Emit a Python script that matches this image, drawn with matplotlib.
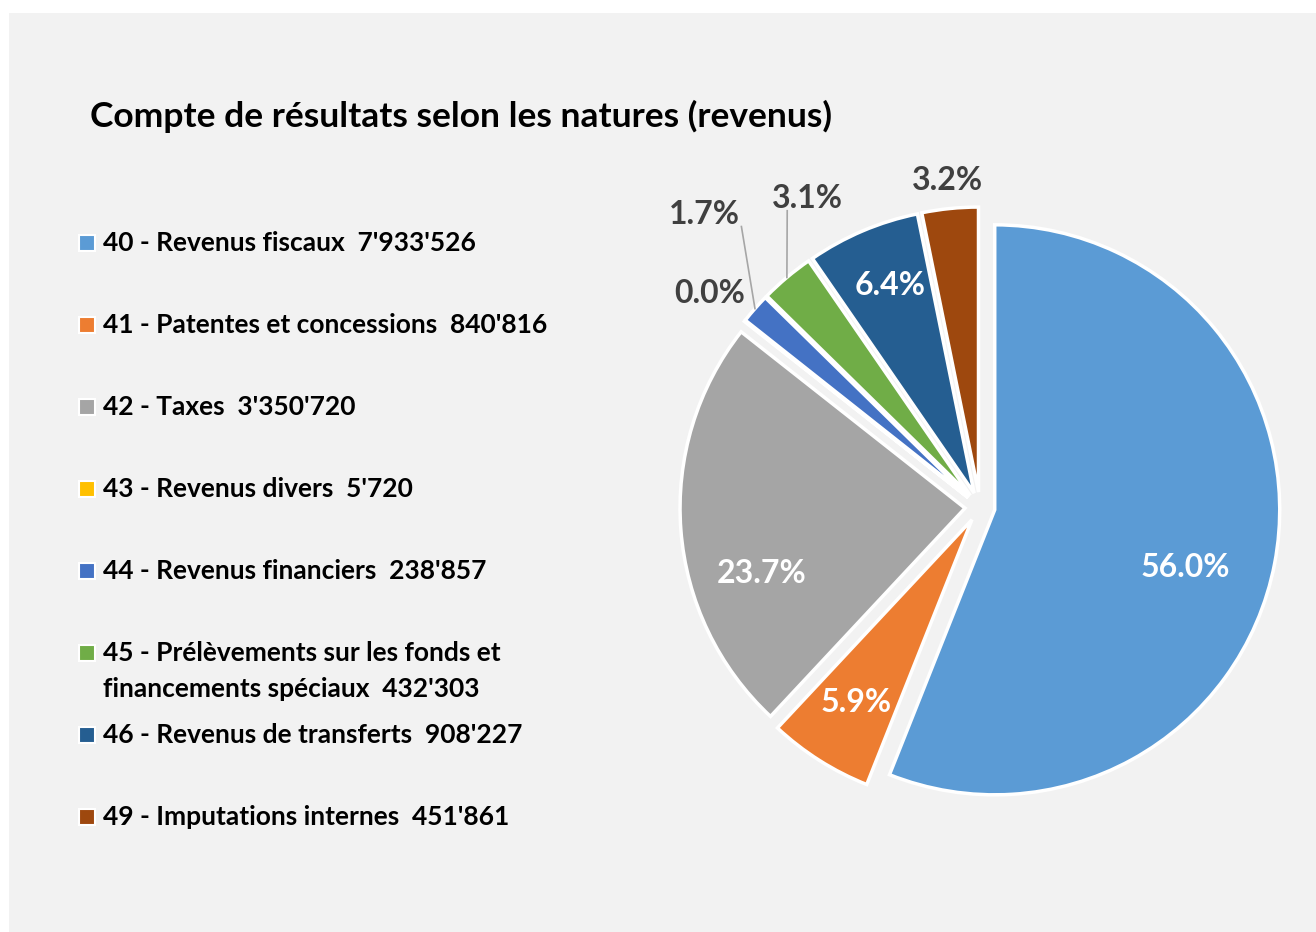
import numpy as np
import matplotlib
matplotlib.use("Agg")
from matplotlib import pyplot as plt
from matplotlib.patches import Rectangle

plt.rcParams['font.family'] = ['Lato', 'DejaVu Sans']

# data
codes = ['40', '41', '42', '43', '44', '45', '46', '49']
names = ['Revenus fiscaux', 'Patentes et concessions', 'Taxes', 'Revenus divers',
         'Revenus financiers', 'Prélèvements sur les fonds et\nfinancements spéciaux',
         'Revenus de transferts', 'Imputations internes']
amounts = [7933526, 840816, 3350720, 5720, 238857, 432303, 908227, 451861]
amount_txt = ["7'933'526", "840'816", "3'350'720", "5'720", "238'857", "432'303", "908'227", "451'861"]
colors = ['#5B9BD5', '#ED7D31', '#A5A5A5', '#FFC000', '#4472C4', '#70AD47', '#255E91', '#9E480E']
title = 'Compte de résultats selon les natures (revenus)'

# label placement: distance (in radii), angle shift (deg, clockwise), inside?
lab_dist = [0.75, 0.81, 0.80, 1.21, 1.41, 1.24, 0.84, 1.15]
lab_shift = [5.5, 0.0, -12.7, 0.0, 5.3, 10.8, 1.0, 0.0]
lab_inside = [True, True, True, False, False, False, True, False]
leader = [False, False, False, False, True, True, False, False]

W, H = 1316, 932
fig = plt.figure(figsize=(W / 100, H / 100), dpi=100)
fig.patch.set_facecolor('white')
ax = fig.add_axes([0, 0, 1, 1])
ax.add_patch(Rectangle((9, 0), W - 9, H - 13, facecolor='#F2F2F2', edgecolor='none', zorder=0))

R = 285
EXPL = 15
cx, cy = 980, H - 507
wedges, _ = ax.pie(amounts, colors=colors, startangle=90, counterclock=False,
                   explode=[EXPL] * len(amounts), radius=R, center=(cx, cy),
                   wedgeprops=dict(edgecolor='white', linewidth=2.5))
ax.set_xlim(0, W)
ax.set_ylim(0, H)
ax.set_aspect('equal')
ax.axis('off')

total = sum(amounts)
for i, w in enumerate(wedges):
    mid = np.radians((w.theta1 + w.theta2) / 2)
    ang = mid - np.radians(lab_shift[i])
    lx = cx + lab_dist[i] * R * np.cos(ang)
    ly = cy + lab_dist[i] * R * np.sin(ang)
    pct = '%.1f%%' % (amounts[i] / total * 100)
    ax.text(lx, ly, pct, ha='center', va='center', fontsize=23, fontweight='bold',
            color='white' if lab_inside[i] else '#404040')
    if leader[i]:
        ex = cx + (R + EXPL) * np.cos(mid)
        ey = cy + (R + EXPL) * np.sin(mid)
        ax.plot([ex, lx + (37 if i == 4 else -20)], [ey, ly - 12], color='#A6A6A6', lw=1.2)

ax.text(90, H - 116, title, ha='left', va='center', fontsize=25.5, fontweight='bold', color='black')

for i in range(len(codes)):
    y = H - (243 + 82 * i)
    ax.add_patch(Rectangle((79, y - 8), 16, 16, facecolor=colors[i], edgecolor='white', lw=1.5))
    lines = ('%s - %s  %s' % (codes[i], names[i], amount_txt[i])).split('\n')
    for k, ln in enumerate(lines):
        ax.text(103, y - 36 * k, ln, ha='left', va='center', fontsize=19, fontweight='bold', color='black')

fig.savefig('out.png', dpi=100, facecolor=fig.get_facecolor())
